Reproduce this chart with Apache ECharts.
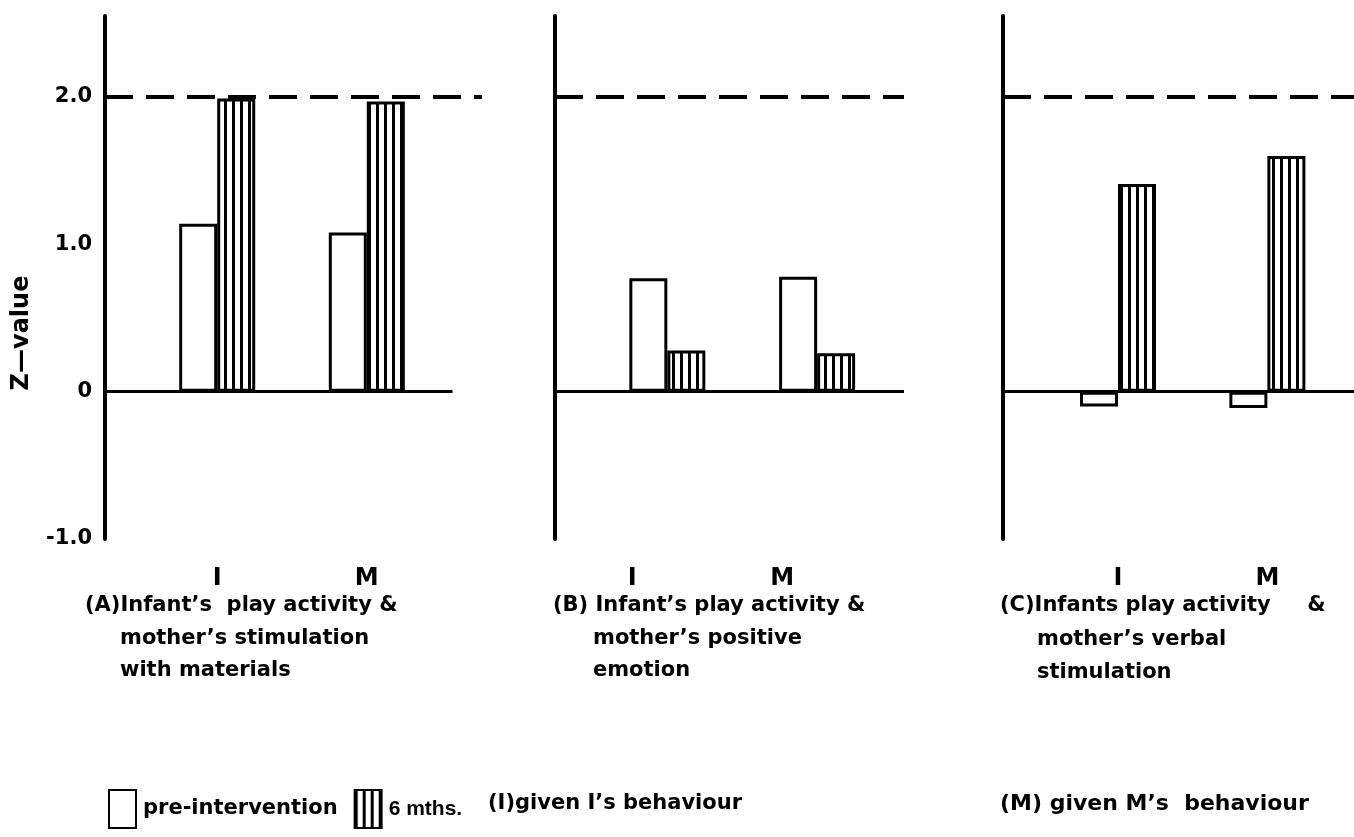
<!DOCTYPE html>
<html><head><meta charset="utf-8">
<script src="https://cdn.jsdelivr.net/npm/echarts@6/dist/echarts.min.js"></script>
<style>html,body{margin:0;padding:0;background:#fff}#c{width:1354px;height:837px}</style>
</head><body><div id="c"></div>
<script>
// ---- data ----
const categories = ['I', 'M'];
const preIntervention = [[1.14, 1.08], [0.77, 0.78], [-0.10, -0.11]];
const sixMonths = [[1.99, 1.97], [0.28, 0.26], [1.41, 1.60]];
const yTickValues = [-1, 0, 1, 2];
const yTickLabels = ['-1.0', '0', '1.0', '2.0'];
const criterionLine = 2.0;
const yAxisTitle = 'Z\u2014value';
const seriesNames = ['pre-intervention', '6 mths.'];
const captionsA = ['(A)Infant\u2019s  play activity &', 'mother\u2019s stimulation', 'with materials'];
const captionsB = ['(B) Infant\u2019s play activity &', 'mother\u2019s positive', 'emotion'];
const captionsC = ['(C)Infants play activity     &', 'mother\u2019s verbal', 'stimulation'];
const legendNotes = ['(I)given I\u2019s behaviour', '(M) given M\u2019s  behaviour'];

// ---- layout ----
const FONT = '"Liberation Sans", Arial, sans-serif';
const DV = '"DejaVu Sans", sans-serif';
const layout = [
  { left: 105, width: 377, xMin: 0.25, xMax: 2.77, zeroEnd: 2.573, labelPad: [0, 0, 0, 0] },
  { left: 555, width: 349, xMin: 0.25, xMax: 2.58, zeroEnd: 2.58, labelPad: [0, 70, 0, 0] },
  { left: 1003, width: 351, xMin: 0.23, xMax: 2.58, zeroEnd: 2.58, labelPad: [0, 0, 0, 0] }
];
const captionPos = [
  [[85, 606], [120, 639], [120, 671]],
  [[553, 606], [593, 639], [593, 671]],
  [[1000, 606], [1037, 640], [1037, 673]]
];
const captions = [captionsA, captionsB, captionsC];

// stripe pattern
const pc = document.createElement('canvas');
pc.width = 8; pc.height = 8;
const pctx = pc.getContext('2d');
pctx.fillStyle = '#fff'; pctx.fillRect(0, 0, 8, 8);
pctx.fillStyle = '#000'; pctx.fillRect(0, 0, 3, 8);
const stripe = { image: pc, repeat: 'repeat' };

const grids = [], xAxes = [], yAxes = [], series = [];
layout.forEach((L, p) => {
  grids.push({ left: L.left, width: L.width, top: 16, bottom: 298 });
  xAxes.push({
    type: 'value', gridIndex: p, min: L.xMin, max: L.xMax,
    axisLine: { show: false, onZero: false }, axisTick: { show: false }, splitLine: { show: false },
    axisLabel: {
      customValues: [1, 2], formatter: v => categories[Math.round(v) - 1],
      margin: 28, fontSize: 24, fontWeight: 'bold', color: '#000',
      fontFamily: DV, padding: L.labelPad
    }
  });
  yAxes.push({
    type: 'value', gridIndex: p, min: -1, max: 2.55,
    axisLine: { show: true, onZero: false, lineStyle: { color: '#000', width: 4 } },
    axisTick: { show: false }, splitLine: { show: false },
    axisLabel: p === 0 ? {
      customValues: yTickValues,
      formatter: v => yTickLabels[yTickValues.indexOf(v)],
      margin: 13, fontSize: 21, fontWeight: 'bold', color: '#000', fontFamily: DV
    } : { show: false }
  });
  series.push({
    name: 'ref' + p, type: 'line', xAxisIndex: p, yAxisIndex: p, data: [],
    markLine: {
      silent: true, symbol: 'none', label: { show: false }, animation: false,
      data: [
        { yAxis: criterionLine, lineStyle: { type: [28, 13], width: 4, color: '#000' } },
        [{ coord: [L.xMin, 0], lineStyle: { type: 'solid', width: 3, color: '#000' } }, { coord: [L.zeroEnd, 0] }]
      ]
    }
  });
  series.push({
    name: seriesNames[0], type: 'bar', xAxisIndex: p, yAxisIndex: p,
    barWidth: 38, barGap: '0%',
    itemStyle: { color: '#fff', borderColor: '#000', borderWidth: 3 },
    data: categories.map((c, i) => [i + 1, preIntervention[p][i]])
  });
  series.push({
    name: seriesNames[1], type: 'bar', xAxisIndex: p, yAxisIndex: p,
    barWidth: 38, barGap: '0%',
    itemStyle: { color: stripe, borderColor: '#000', borderWidth: 3 },
    data: categories.map((c, i) => [i + 1, sixMonths[p][i]])
  });
});

const graphics = [{
  type: 'text', x: 22, y: 333, rotation: Math.PI / 2,
  style: { text: yAxisTitle, fontSize: 24, fontWeight: 'bold', fontFamily: DV, fill: '#000', align: 'center', verticalAlign: 'middle' }
}];
captions.forEach((lines, p) => {
  lines.forEach((t, k) => {
    graphics.push({
      type: 'text', x: captionPos[p][k][0], y: captionPos[p][k][1],
      style: { text: t, fontSize: 21, fontWeight: 'bold', fontFamily: DV, fill: '#000', align: 'left', verticalAlign: 'middle' }
    });
  });
});
graphics.push({ type: 'text', x: 488, y: 804, style: { text: legendNotes[0], fontSize: 21, fontWeight: 'bold', fontFamily: DV, fill: '#000', verticalAlign: 'middle' } });
graphics.push({ type: 'text', x: 1000, y: 804, style: { text: legendNotes[1], fontSize: 22, fontWeight: 'bold', fontFamily: DV, fill: '#000', verticalAlign: 'middle' } });

const chart = echarts.init(document.getElementById('c'));
chart.setOption({
  animation: false,
  backgroundColor: '#fff',
  grid: grids, xAxis: xAxes, yAxis: yAxes, series: series,
  legend: {
    data: [
      { name: seriesNames[0] },
      { name: seriesNames[1], textStyle: { fontFamily: FONT, fontSize: 21, fontWeight: 'bold' } }
    ],
    left: 103, top: 784, icon: 'rect',
    itemWidth: 27, itemHeight: 38, itemGap: 16,
    textStyle: { fontSize: 21, fontWeight: 'bold', fontFamily: DV, color: '#000', padding: [0, 0, 0, 2] }
  },
  graphic: graphics
});
</script></body></html>
